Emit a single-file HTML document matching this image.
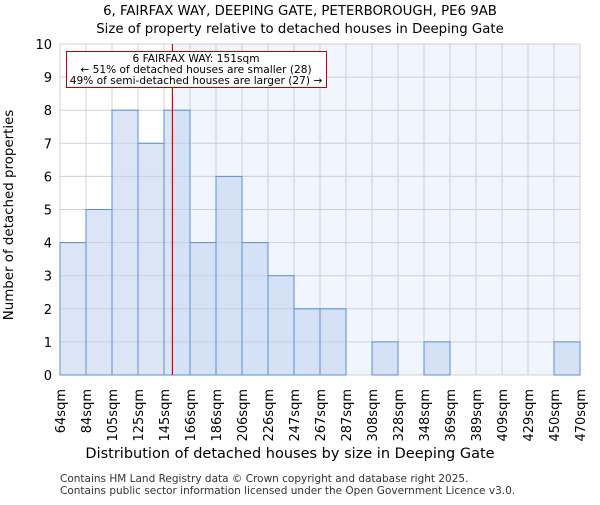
<!DOCTYPE html>
<html><head><meta charset="utf-8"><style>
body{margin:0;background:#fff;font-family:"Liberation Sans","DejaVu Sans",sans-serif}
</style></head><body>
<svg id="c" width="600" height="500" xmlns="http://www.w3.org/2000/svg" font-family="DejaVu Sans, Liberation Sans, sans-serif">
<text x="300" y="15" text-anchor="middle" font-size="13.3">6, FAIRFAX WAY, DEEPING GATE, PETERBOROUGH, PE6 9AB</text>
<text x="300" y="33" text-anchor="middle" font-size="13.3">Size of property relative to detached houses in Deeping Gate</text>
<g id="plot"></g>
<text x="290" y="458" text-anchor="middle" font-size="14.5">Distribution of detached houses by size in Deeping Gate</text>
<text transform="translate(13,215) rotate(-90)" text-anchor="middle" font-size="13.4">Number of detached properties</text>
<text x="60" y="482" font-size="10.5" fill="#333">Contains HM Land Registry data © Crown copyright and database right 2025.</text>
<text x="60" y="494" font-size="10.5" fill="#333">Contains public sector information licensed under the Open Government Licence v3.0.</text>
</svg>
<script>
const binLabels=["64sqm","84sqm","105sqm","125sqm","145sqm","166sqm","186sqm","206sqm","226sqm","247sqm","267sqm","287sqm","308sqm","328sqm","348sqm","369sqm","389sqm","409sqm","429sqm","450sqm","470sqm"];
const counts=[4,5,8,7,8,4,6,4,3,2,2,0,1,0,1,0,0,0,0,1];
const yTicks=[0,1,2,3,4,5,6,7,8,9,10];
const minSize=64, maxSize=470, subjectSize=151;
const X0=60,X1=580,Y0=375,Y1=44,YMAX=10;
const NS="http://www.w3.org/2000/svg";
const g=document.getElementById('plot');
function xb(i){return X0+(X1-X0)*i/counts.length;}
function xs(v){return X0+(X1-X0)*(v-minSize)/(maxSize-minSize);}
function y(v){return Y0-(Y0-Y1)*v/YMAX;}
function mk(t,a){const e=document.createElementNS(NS,t);for(const k in a)e.setAttribute(k,a[k]);g.appendChild(e);return e;}
const lx=xs(subjectSize)+1;
let e=mk('rect',{x:X0,y:Y1,width:lx-X0,height:Y0-Y1,fill:'#ffffff'});


e=mk('rect',{x:lx,y:Y1,width:X1-lx,height:Y0-Y1,fill:'#f1f5fd'});


yTicks.forEach(t=>{
 e=mk('line',{x1:X0,x2:X1,y1:y(t),y2:y(t),stroke:'#d0d0d0','stroke-width':1});
 
 
 e=mk('text',{x:X0-8,y:y(t)+5,'text-anchor':'end','font-size':13});
 e.textContent=t;
 
 
});
for(let i=0;i<=counts.length;i++){
 e=mk('line',{x1:xb(i),x2:xb(i),y1:Y1,y2:Y0,stroke:'#d0d0d0','stroke-width':1});
 
 
}
counts.forEach((c,i)=>{
 if(c<=0)return;
 e=mk('rect',{x:xb(i),y:y(c),width:xb(i+1)-xb(i),height:Y0-y(c),fill:'rgba(190,208,238,0.55)',stroke:'#5b8fd6','stroke-width':1});
 
 
});
binLabels.forEach((l,i)=>{
 const x=xb(i);
 e=mk('text',{transform:`translate(${x+5},${Y0+14}) rotate(-90)`,'text-anchor':'end','font-size':13});
 e.textContent=l;
 
 
});
e=mk('line',{x1:lx,x2:lx,y1:Y1,y2:Y0,stroke:'#e00000','stroke-width':1.2});


e=mk('rect',{x:66.5,y:51.5,width:260,height:36,fill:'#fff',stroke:'#c00000','stroke-width':1});


["6 FAIRFAX WAY: "+subjectSize+"sqm","← 51% of detached houses are smaller (28)","49% of semi-detached houses are larger (27) →"].forEach((s,k)=>{
 e=mk('text',{x:196,y:62+k*11,'text-anchor':'middle','font-size':10.6});
 e.textContent=s;
 
 
});
</script>
</body></html>
